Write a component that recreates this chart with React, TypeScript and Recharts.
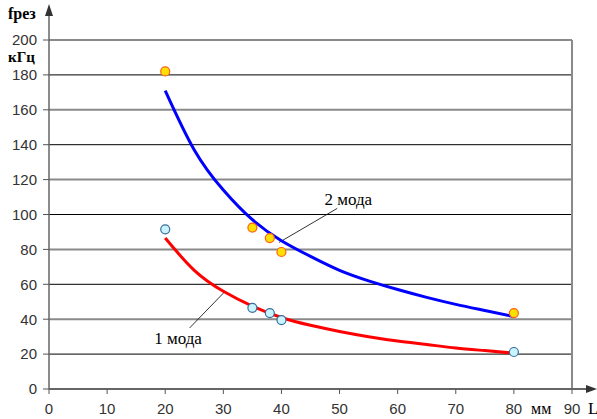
import React from 'react';
import {
  ComposedChart, Line, Scatter, XAxis, YAxis, ReferenceLine, ReferenceDot,
} from 'recharts';

// Fitted curves
const mode2Curve = [
  { x: 20, y: 171 }, { x: 25, y: 137 }, { x: 30, y: 114 }, { x: 35, y: 97 },
  { x: 40, y: 85 }, { x: 45, y: 76 }, { x: 50, y: 68 }, { x: 55, y: 62 },
  { x: 60, y: 57 }, { x: 65, y: 52.5 }, { x: 70, y: 48.5 }, { x: 75, y: 45 },
  { x: 80, y: 41.5 },
];
const mode1Curve = [
  { x: 20, y: 86.5 }, { x: 25, y: 68 }, { x: 30, y: 56 }, { x: 35, y: 47.5 },
  { x: 40, y: 41 }, { x: 45, y: 36.5 }, { x: 50, y: 33 }, { x: 55, y: 30 },
  { x: 60, y: 27.5 }, { x: 65, y: 25.5 }, { x: 70, y: 23.5 }, { x: 75, y: 22 },
  { x: 80, y: 20.5 },
];
// Measured points
const mode2Points = [
  { x: 20, y: 182 }, { x: 35, y: 92.5 }, { x: 38, y: 86.5 }, { x: 40, y: 78.5 }, { x: 80, y: 43.5 },
];
const mode1Points = [
  { x: 20, y: 91.5 }, { x: 35, y: 46.5 }, { x: 38, y: 43.5 }, { x: 40, y: 39.5 }, { x: 80, y: 21.2 },
];
const xTicks = [0, 10, 20, 30, 40, 50, 60, 70, 80, 90];
const yTicks = [0, 20, 40, 60, 80, 100, 120, 140, 160, 180, 200];
const gridLevels = [20, 40, 60, 80, 100, 120, 140, 160, 180, 200];

const tickStyle = { fill: '#333', fontSize: 15, fontFamily: 'Liberation Sans, Arial, sans-serif' };
const serif = 'Liberation Serif, Times New Roman, serif';

const OrangeDot = (p: any) => (
  <circle cx={p.cx} cy={p.cy} r={4.5} fill="#FFE000" stroke="#FF6010" strokeWidth={1.2} />
);
const BlueDot = (p: any) => (
  <circle cx={p.cx} cy={p.cy} r={4.5} fill="#C8F4FF" stroke="#3A6E9A" strokeWidth={1.2} />
);

export default function App() {
  return (
    <div style={{ position: 'absolute', left: 0, top: 0, width: 597, height: 419, background: '#fff' }}>
      <ComposedChart width={597} height={419} margin={{ top: 40, right: 25, bottom: 0, left: 0 }}>
        <XAxis
          type="number" dataKey="x" domain={[0, 90]} ticks={xTicks} allowDataOverflow height={30}
          tick={tickStyle} tickSize={5} tickMargin={9}
          axisLine={{ stroke: '#666', strokeWidth: 2 }} tickLine={{ stroke: '#555' }}
        />
        <YAxis
          type="number" dataKey="y" domain={[0, 200]} ticks={yTicks} width={49}
          tick={tickStyle} tickSize={6} tickMargin={6}
          axisLine={{ stroke: '#666', strokeWidth: 1.5 }} tickLine={{ stroke: '#555' }}
        />
        {gridLevels.map((v) => (
          <ReferenceLine key={v} y={v} stroke={v % 40 === 0 ? '#8a8a8a' : '#000'} strokeWidth={v % 40 === 0 ? 2 : 1} />
        ))}
        <ReferenceLine x={90} stroke="#8a8a8a" strokeWidth={2} />
        <ReferenceLine segment={[{ x: 49.6, y: 103.5 }, { x: 39.6, y: 84 }]} stroke="#000" strokeWidth={0.8} />
        <ReferenceLine segment={[{ x: 24.2, y: 35 }, { x: 30.2, y: 55.6 }]} stroke="#000" strokeWidth={0.8} />
        <Line data={mode2Curve} dataKey="y" type="natural" stroke="#0000FF" strokeWidth={3} dot={false} isAnimationActive={false} />
        <Line data={mode1Curve} dataKey="y" type="natural" stroke="#FF0000" strokeWidth={3} dot={false} isAnimationActive={false} />
        <Scatter data={mode2Points} dataKey="y" shape={OrangeDot} isAnimationActive={false} />
        <Scatter data={mode1Points} dataKey="y" shape={BlueDot} isAnimationActive={false} />
        <ReferenceDot x={51.5} y={109} r={0} stroke="none"
          label={{ value: '2 мода', position: 'center', fill: '#000', fontSize: 17, fontFamily: serif }} />
        <ReferenceDot x={22.2} y={29} r={0} stroke="none"
          label={{ value: '1 мода', position: 'center', fill: '#000', fontSize: 17, fontFamily: serif }} />
      </ComposedChart>
      <svg width={597} height={419} style={{ position: 'absolute', left: 0, top: 0, pointerEvents: 'none' }}>
        <line x1={49} y1={14} x2={49} y2={40} stroke="#666" strokeWidth={1.5} />
        <polygon points="49,4 45,16 53,16" fill="#333" />
        <line x1={572} y1={389} x2={590} y2={389} stroke="#666" strokeWidth={2} />
        <polygon points="597,389 586,385 586,393" fill="#333" />
        <text x={8} y={19} fontFamily={serif} fontWeight="bold" fontSize={16} fill="#000">fрез</text>
        <text x={8} y={62} fontFamily={serif} fontWeight="bold" fontSize={15} fill="#000">кГц</text>
        <text x={531} y={414} fontFamily={serif} fontSize={16} fill="#000">мм</text>
        <text x={588} y={414} fontFamily={serif} fontSize={17} fill="#000">L</text>
      </svg>
    </div>
  );
}
